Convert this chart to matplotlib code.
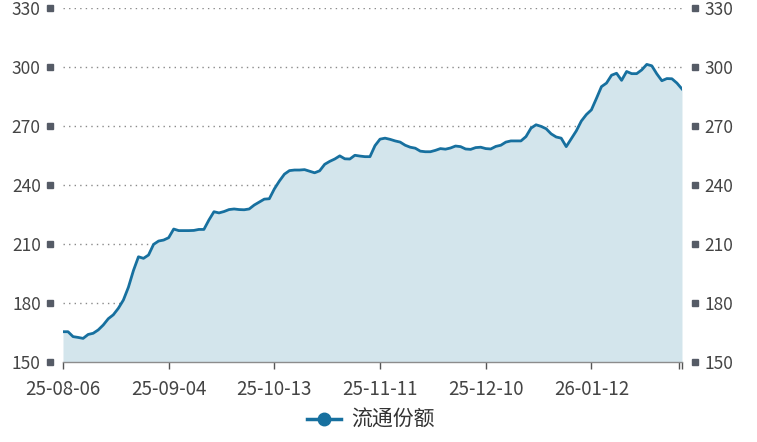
import matplotlib.pyplot as plt
import matplotlib.transforms as mtransforms
import numpy as np

plt.rcParams['font.family'] = ['Noto Sans CJK SC', 'DejaVu Sans']

# 流通份额（按交易日）
valores = [
    165.4, 165.4, 162.9, 162.5, 162.0, 164.0, 164.6, 166.3, 168.8, 172.0,
    174.0, 177.3, 181.5, 188.0, 196.5, 203.5, 202.7, 204.4, 209.8, 211.5,
    212.0, 213.2, 217.6, 216.8, 216.8, 216.8, 216.9, 217.4, 217.4, 222.2,
    226.4, 225.8, 226.5, 227.5, 227.8, 227.5, 227.4, 227.8, 229.8, 231.3,
    232.8, 233.0, 238.0, 242.0, 245.5, 247.3, 247.6, 247.6, 247.8, 247.0,
    246.2, 247.2, 250.5, 252.0, 253.2, 254.8, 253.3, 253.2, 255.1, 254.7,
    254.4, 254.4, 260.0, 263.3, 263.8, 263.2, 262.4, 261.8, 260.2, 259.2,
    258.7, 257.2, 256.9, 256.9, 257.6, 258.5, 258.2, 258.8, 259.8, 259.5,
    258.3, 258.1, 259.0, 259.2, 258.5, 258.3, 259.6, 260.2, 261.8, 262.4,
    262.4, 262.4, 264.6, 268.9, 270.6, 269.8, 268.6, 266.0, 264.4, 263.8,
    259.5, 263.5, 267.5, 272.5, 275.8, 278.2, 284.0, 290.0, 291.8, 295.8,
    296.8, 293.2, 297.7, 296.6, 296.6, 298.5, 301.3, 300.6, 296.5, 293.0,
    294.1, 294.0, 291.8, 288.8,
]
rotulos_x = ['25-08-06', '25-09-04', '25-10-13', '25-11-11', '25-12-10', '26-01-12']
ticks_y = [150, 180, 210, 240, 270, 300, 330]

cor_linha = '#17709f'
cor_area = '#d3e5ec'
cor_texto = '#444444'

x = np.arange(len(valores))

fig = plt.figure(figsize=(7.57, 4.42), dpi=100)
ax = fig.add_axes([0.0832, 0.181, 0.8177, 0.801])

# area + linha
ax.fill_between(x, valores, 150, color=cor_area, linewidth=0)
ax.plot(x, valores, color=cor_linha, linewidth=2.0, label='流通份额')

ax.set_xlim(0, len(valores) - 1)
ax.set_ylim(150, 330)

# grade pontilhada
for v in ticks_y[1:]:
    ax.axhline(v, color='#8a8a8a', linewidth=1.0, linestyle=(0, (1, 3)), zorder=0.5)

for lado in ['top', 'left', 'right']:
    ax.spines[lado].set_visible(False)
ax.spines['bottom'].set_color('#8c8c8c')
ax.spines['bottom'].set_linewidth(1.0)

# eixo x
ax.set_xticks(x[::21])
ax.set_xticklabels(rotulos_x)
ax.set_xticks([len(valores) - 1.6, len(valores) - 1], minor=True)
ax.tick_params(axis='x', which='both', length=5, width=1, color='#555555',
               pad=7, labelsize=13.5, labelcolor=cor_texto)

# eixo y (esquerda e direita)
ax.set_yticks(ticks_y)
ax.tick_params(axis='y', length=0, pad=16, labelsize=12.5, labelcolor=cor_texto,
               left=True, right=True, labelleft=True, labelright=True)

# quadradinhos dos ticks
trans = mtransforms.blended_transform_factory(ax.transAxes, ax.transData)
ax.plot([-0.021] * len(ticks_y), ticks_y, 's', color='#555b66', markersize=4.5,
        transform=trans, clip_on=False)
ax.plot([1.021] * len(ticks_y), ticks_y, 's', color='#555b66', markersize=4.5,
        transform=trans, clip_on=False)

# legenda
handle, = ax.plot([], [], color=cor_linha, linewidth=2.5, marker='o', markersize=9)
leg = fig.legend([handle], ['流通份额'], loc='center', bbox_to_anchor=(0.49, 0.05),
                 frameon=False, fontsize=15, handlelength=1.6, handletextpad=0.5)
for t in leg.get_texts():
    t.set_color('#333333')

fig.savefig('out.png', dpi=100)
